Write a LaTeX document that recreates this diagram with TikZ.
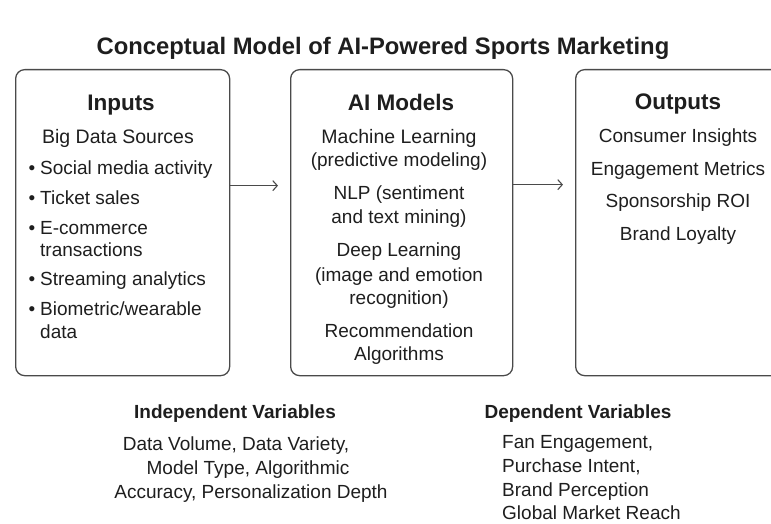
\documentclass[tikz,border=0pt]{standalone}
\usepackage{fontspec}
\setmainfont{Liberation Sans}
\usetikzlibrary{arrows.meta}
\definecolor{ink}{HTML}{1E1E1E}
\definecolor{frame}{HTML}{4A4A4A}
\begin{document}
\begin{tikzpicture}[x=1pt,y=-1pt,
  panel/.style={draw=frame, line width=1.3pt, rounded corners=9pt,
    minimum width=#1, minimum height=306pt, inner sep=0pt, anchor=north west},
  flow/.style={-{Straight Barb[length=4.5pt,width=10pt]}, draw=frame, line width=1.1pt},
  txt/.style={text=ink, inner sep=0pt, text height=0.72em, text depth=0.2em,
    yshift=-5pt, font=\fontsize{19}{23}\selectfont},
  head/.style={txt, font=\fontsize{22.5}{26}\selectfont\bfseries},
  subhead/.style={txt, font=\fontsize{19}{23}\selectfont\bfseries},
  lead/.style={txt, font=\fontsize{19.5}{23}\selectfont},
  titletext/.style={txt, font=\fontsize{23.8}{28}\selectfont\bfseries},
  item/.style={txt, anchor=west},
  dot/.style={txt}
]
\useasboundingbox (0,0) rectangle (771,524);
\clip (0,0) rectangle (771,524);

% title
\node[titletext] (title) at (383,47) {Conceptual Model of AI-Powered Sports Marketing};

% the three panels
\node[panel=214pt] (inbox) at (15,69) {};
\node[panel=222pt] (aibox) at (290,69) {};
\node[panel=216pt] (outbox) at (575,69) {};

% flow between panels
\draw[flow, shorten >=12pt] ([yshift=37pt]inbox.east) -- ([yshift=37pt]aibox.west);
\draw[flow, shorten >=12pt] ([yshift=38pt]aibox.east) -- ([yshift=38pt]outbox.west);

% inputs
\node[head] (inhead) at (121,103) {Inputs};
\node[lead] (insub) at (118,136) {Big Data Sources};
\foreach \n/\y/\t in {a/167/{Social media activity}, b/197/{Ticket sales},
    c/227/{E-commerce}, d/278/{Streaming analytics}, e/308/{Biometric/wearable}}
  {\node[dot] (bul\n) at (32,\y) {•};
   \node[item] (in\n) at (40,\y) {\t};}
\node[item] (inc2) at (40,249) {transactions};
\node[item] (ine2) at (40,331) {data};

% AI models
\node[head] (aihead) at (401,103) {AI Models};
\node[lead] (aia) at (399,136) {Machine Learning};
\foreach \n/\y/\t in {b/159/(predictive modeling),
    c/192/NLP (sentiment, d/216/and text mining), e/249/Deep Learning,
    f/274/(image and emotion, g/297/recognition), h/330/Recommendation,
    i/353/Algorithms}
  {\node[txt] (ai\n) at (399,\y) {\t};}

% outputs
\node[head] (outhead) at (678,102) {Outputs};
\foreach \n/\y/\t in {a/135/Consumer Insights, b/168/Engagement Metrics,
    c/200/Sponsorship ROI, d/233/Brand Loyalty}
  {\node[txt] (out\n) at (678,\y) {\t};}

% variables
\node[subhead] (indhead) at (235,411) {Independent Variables};
\node[txt] (inda) at (236,443) {Data Volume, Data Variety,};
\node[txt] (indb) at (248,467) {Model Type, Algorithmic};
\node[txt] (indc) at (251,491) {Accuracy, Personalization Depth};

\node[subhead] (dephead) at (578,411) {Dependent Variables};
\foreach \n/\y/\t in {a/441/{Fan Engagement,}, b/465/{Purchase Intent,},
    c/489/Brand Perception, d/512/Global Market Reach}
  {\node[item] (dep\n) at (502,\y) {\t};}
\end{tikzpicture}
\end{document}
